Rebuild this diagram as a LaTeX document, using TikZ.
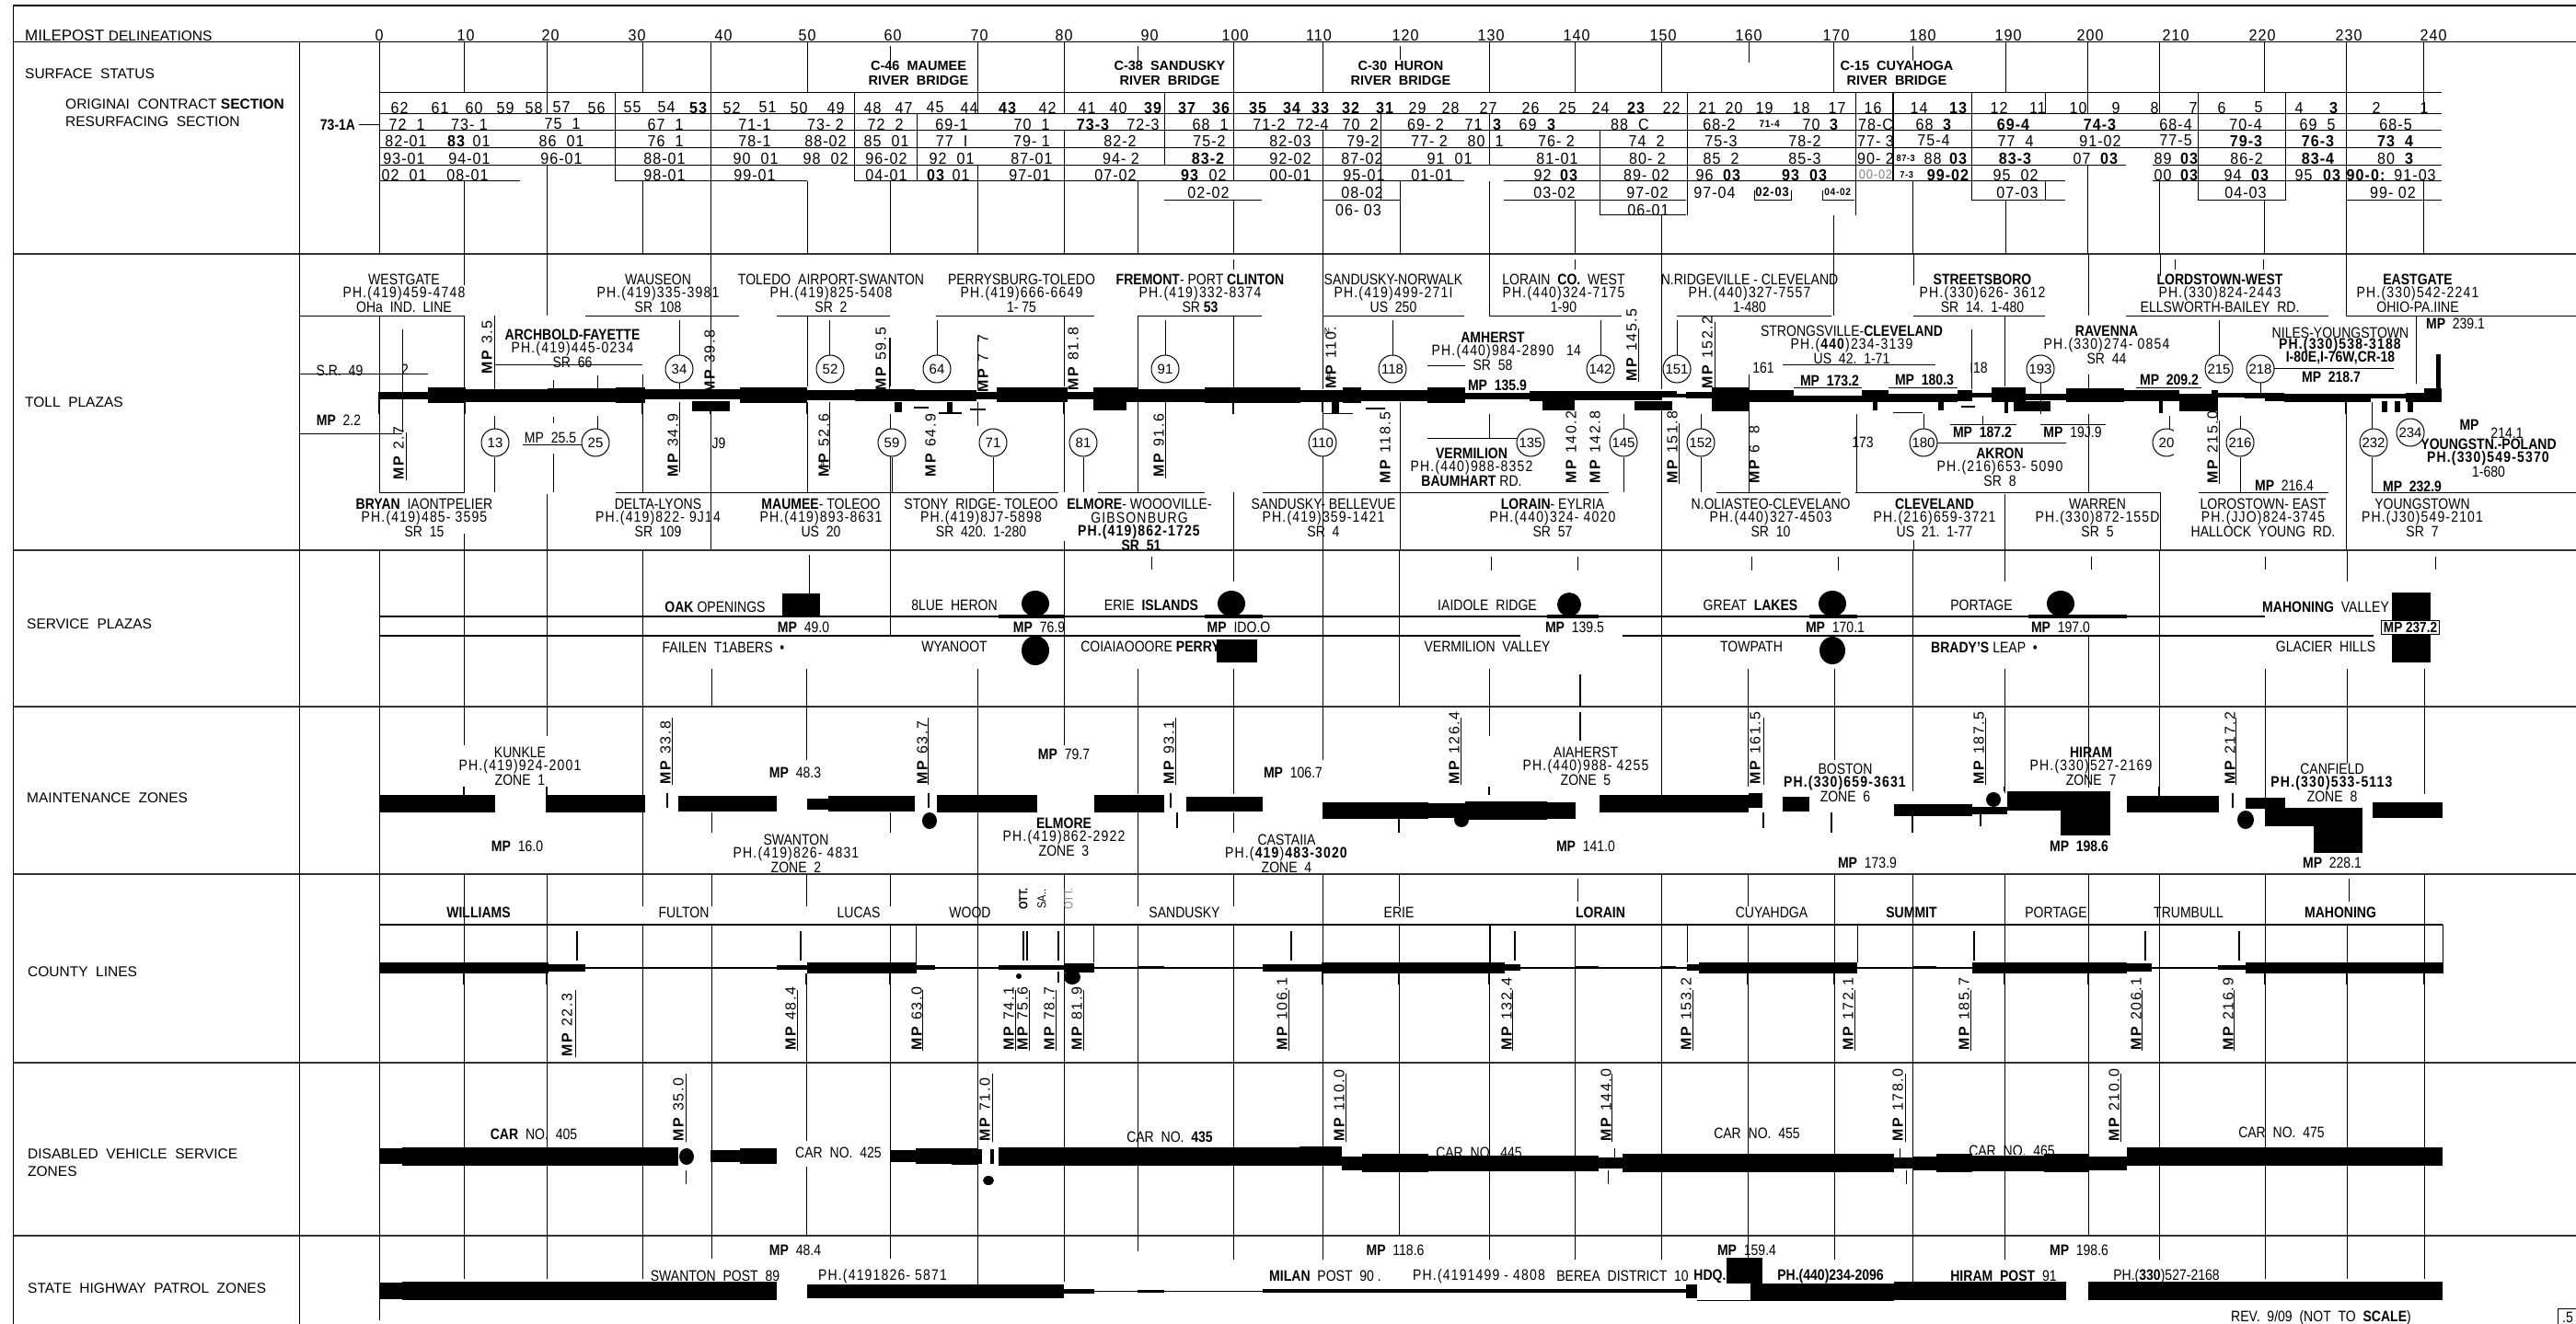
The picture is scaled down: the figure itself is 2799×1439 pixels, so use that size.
\documentclass[tikz,border=0pt]{standalone}
\usepackage{fontspec}
\setmainfont[FakeStretch=0.85]{Liberation Sans}
\newfontfamily\mpf[LetterSpace=10]{Liberation Sans}
\newfontfamily\plainf{Liberation Sans}
\newfontfamily\phf[FakeStretch=0.85,LetterSpace=7]{Liberation Sans}
\newfontfamily\cellf[FakeStretch=0.92,LetterSpace=6]{Liberation Sans}
\newcount\nc
\def\fs#1{\fontsize{#1}{#1}\selectfont}
\def\B#1{\textbf{#1}}
\tikzset{
  lbl/.style={inner sep=0pt,font=\fs{16.5}},
  cell/.style={inner sep=0pt,font=\cellf\fs{17.5}},
  vl/.style={line width=1pt,black},
  hv/.style={line width=1.2pt,black},
  band/.style={line width=2pt,black!80},
  tick/.style={line width=2pt,black},
  vtext/.style={inner sep=0pt,rotate=90,anchor=west,font=\mpf\fs{16}},
  exitc/.style={circle,draw,line width=1pt,fill=white,minimum size=30pt,inner sep=0pt,font=\plainf\fs{15}}
}
\def\T#1#2#3{\global\advance\nc by1 \node[lbl] (n\the\nc) at (#1,#2) {#3};}
\def\C#1#2#3{\global\advance\nc by1 \node[cell] (n\the\nc) at (#1,#2) {#3};}
\def\W#1#2#3{\global\advance\nc by1 \node[lbl,anchor=west,font=\plainf\fs{15.5}] (n\the\nc) at (#1,#2) {#3};}
\def\Three#1#2#3#4#5{\T{#1}{#2}{#3}\T{#1}{#2+15}{\phf #4}\T{#1}{#2+30}{#5}}
\def\V#1#2#3{\global\advance\nc by1 \node[vtext] (n\the\nc) at (#1,#2) {\B{MP}\ #3};}
\def\E#1#2#3{\global\advance\nc by1 \node[exitc] (n\the\nc) at (#1,#2) {#3};}
\begin{document}
\begin{tikzpicture}[x=1pt,y=-1pt]
\useasboundingbox (0,0) rectangle (2799,1439);
\fill[white] (0,0) rectangle (2799,1439);
% frame and row rules
\draw[hv] (14,6) -- (2799,6);
\draw[hv] (14,45.5) -- (2799,45.5);
\foreach \y in {276,598,768,950,1155,1343} \draw[band] (14,\y) -- (2799,\y);
\draw[vl] (14,6) -- (14,1439);
\draw[vl] (325,45) -- (325,1439);
% surface table verticals
\foreach \x/\a/\b in {412/45/276,504/45/101,504/197/276,594/45/124,594/180/276,668/101/197,698/45/101,698/197/276,772/45/276,877/45/101,877/197/276,928/101/197,967/50/67,967/197/276,996/124/197,1062/45/124,1062/180/276,1156/45/124,1156/142/276,1265/101/180,1236/50/66,1236/197/276,1340/45/197,1340/218/276,1437/45/101,1437/142/276,1500/124/218,1521/50/65,1521/197/276,1618/45/101,1618/124/180,1618/197/276,1711/45/101,1711/218/276,1738/142/234,1805/45/101,1805/234/276,1833/101/234,1900/45/68,1992/45/101,1992/234/276,2016/101/234,2078/50/66,2078/197/276,2142/101/218,2179/45/101,2179/218/276,2222/101/124,2222/197/218,2268/45/124,2268/180/276,2346/45/124,2346/197/276,2388/101/218,2460/45/101,2460/218/276,2483/101/218,2549/45/276,2633/45/124,2633/197/276}
  \draw[vl] (\x,\a) -- (\x,\b);
\draw[tick] (2057,101) -- (2057,197);
\foreach \y/\a/\b in {101/412/2653,124/412/2653,142/412/2653,161/412/2653,180/412/2310,180/2339/2653,197/412/565,197/668/877,197/928/1591,197/1634/2244,197/2339/2653,218/1265/1371,218/1437/1521,218/1634/1832,218/2142/2244,218/2388/2483,218/2549/2653,234/1738/1832,218/1906/1946,218/1980/2015}
  \draw[vl] (\a,\y) -- (\b,\y);
\foreach \x/\a/\b in {1906/207/218,1946/207/218,1980/207/218}
  \draw[vl] (\x,\a) -- (\x,\b);
\draw[vl] (390,136) -- (412,136);
% toll verticals
\foreach \x/\a/\b in {412/343/535,437/358/470,504/276/310,504/343/535,504/580/598,537/343/423,537/452/470,537/497/535,594/276/343,594/537/598,601/413/423,601/453/460,601/493/535,649/408/423,649/452/470,698/407/535,738/348/386,738/416/423,738/437/513,772/276/343,772/343/423,772/450/598,877/343/420,877/437/535,901/348/386,901/437/510,967/367/420,967/450/598,1018/348/386,1062/365/423,1062/437/463,1079/497/535,969/497/535,1156/343/420,1156/437/535,1156/588/598,1177/497/535,1236/343/535,1266/348/386,1266/437/520,1340/282/293,1340/343/423,1340/437/450,1340/535/598,1437/276/343,1437/343/423,1437/437/535,1437/535/598,1513/348/386,1521/437/598,1618/276/343,1618/450/476,1711/282/293,1739/348/386,1764/450/466,1764/497/535,1805/276/423,1805/437/598,1822/348/386,1848/450/466,1848/497/535,1900/407/423,1900/437/535,1992/276/343,2017/450/535,2079/276/310,2079/587/598,2090/450/466,2142/358/423,2178/343/420,2178/537/598,2154/452/461,2217/405/450,2269/276/343,2269/407/423,2269/450/535,2347/276/300,2347/535/598,2357/452/466,2363/282/293,2459/282/293,2411/348/386,2409/433/457,2456/408/427,2434/452/466,2434/497/535,2549/276/343,2549/437/598,2577/437/466,2577/497/535,2625/343/417}
  \draw[vl] (\x,\a) -- (\x,\b);
\foreach \y/\a/\b in {343/325/505,343/636/803,343/844/967,343/1017/1189,343/1237/1371,343/1437/1591,343/1618/1762,343/1822/1990,343/2079/2222,343/2310/2530,343/2549/2799,535/412/505,535/669/1150,535/1193/1309,535/1372/1748,535/1865/2000,535/2016/2347,535/2389/2530,535/2577/2799,406/325/465,471/325/437,396/538/698,397/1551/1592,476/1551/1649,396/1937/2103,461/2119/2191,461/2217/2288,481/2104/2245,400/2471/2601,421/1949/2023,421/2052/2127,421/2321/2392,427/1593/1662,483/568/632}
  \draw[vl] (\a,\y) -- (\b,\y);
% road
\foreach \a/\b/\c/\d in {411/465/426/434,465/506/421/438,506/595/423/437,595/669/422/437,669/701/421/438,701/804/423/434,804/877/421/438,877/929/424/435,929/994/423/436,994/1061/424/436,1061/1083/426/434,1083/1160/421/437,1160/1188/426/434,1188/1237/421/437,1188/1224/437/446,1237/1309/423/437,1309/1413/421/438,1413/1459/424/437,1459/1479/421/438,1479/1551/424/436,1551/1592/421/438,1592/1662/427/434,1662/1676/425/436,1676/1711/425/446,1711/1806/425/435,1776/1817/436/446,1806/1822/425/432,1822/1832/428/432,1832/1860/426/433,1860/1901/421/447,1901/1949/424/437,1949/2023/430/437,2023/2052/424/437,2052/2127/428/437,2127/2143/424/436,2143/2164/427/432,2164/2201/421/437,2201/2245/428/435,2188/2228/436/447,2245/2308/422/437,2308/2368/424/436,2368/2403/428/447,2403/2410/424/447,2410/2439/427/432,2439/2461/427/433,2461/2482/427/436,2482/2576/428/437,2576/2614/428/433,2614/2634/427/437,2634/2653/422/437,752/793/436/447,972/980/437/448,993/1009/442/444,1054/1071/444/446,1029/1035/437/450,1020/1045/448/450,2647/2652/385/423,2588/2594/436/448,2602/2608/436/448,2616/2622/436/448,1447/1455/437/450,1437/1470/449/450,1484/1505/443/445,2057/2089/448/449,2131/2146/441/443,2178/2182/437/449,2035/2040/434/446,2106/2112/434/446,2346/2350/436/449}
  \fill (\a,\c) rectangle (\b,\d);
\foreach \x/\a/\b in {412/430/450,505/437/450,698/437/450,772/447/450,877/437/450,1156/437/450,1340/437/450,1437/437/448,2549/437/450}
  \draw[tick] (\x,\a) -- (\x,\b);
% toll labels
\Three{439}{304}{WESTGATE}{PH.(419)459-4748}{OHa\ \ IND.\ \ LINE}
\Three{715}{304}{WAUSEON}{PH.(419)335-3981}{SR\ \ 108}
\Three{903}{304}{TOLEDO\ \ AIRPORT-SWANTON}{PH.(419)825-5408}{SR\ \ 2}
\Three{1110}{304}{PERRYSBURG-TOLEDO}{PH.(419)666-6649}{1- 75}
\Three{1304}{304}{\B{FREMONT}- PORT \B{CLINTON}}{PH.(419)332-8374}{SR \B{53}}
\Three{1514}{304}{SANDUSKY-NORWALK}{PH.(419)499-271I}{US\ \ 250}
\Three{1699}{304}{LORAIN\ \ \B{CO.}\ \ WEST}{PH.(440)324-7175}{1-90}
\Three{1901}{304}{N.RIDGEVILLE - CLEVELAND}{PH.(440)327-7557}{1-480}
\Three{2154}{304}{\B{STREETSBORO}}{PH.(330)626- 3612}{SR\ \ 14.\ \ 1-480}
\Three{2412}{304}{\B{LORDSTOWN-WEST}}{PH.(330)824-2443}{ELLSWORTH-BAILEY\ \ RD.}
\Three{2627}{304}{\B{EASTGATE}}{PH.(330)542-2241}{OHIO-PA.IINE}
\Three{461}{548}{\B{BRYAN}\ \ IAONTPELIER}{PH.(419)485- 3595}{SR\ \ 15}
\Three{715}{548}{DELTA-LYONS}{PH.(419)822- 9J14}{SR\ \ 109}
\Three{892}{548}{\B{MAUMEE}- TOLEOO}{PH.(419)893-8631}{US\ \ 20}
\Three{1066}{548}{STONY\ \ RIDGE- TOLEOO}{PH.(419)8J7-5898}{SR\ \ 420.\ \ 1-280}
\Three{1238}{548}{\B{ELMORE}- WOOOVILLE-}{GIBSONBURG}{\B{\phf PH.(419)862-1725}}
\T{1240}{593}{\B{SR\ \ 51}}
\Three{1438}{548}{SANDUSKY- BELLEVUE}{PH.(419)359-1421}{SR\ \ 4}
\Three{1687}{548}{\B{LORAIN}- EYLRIA}{PH.(440)324- 4020}{SR\ \ 57}
\Three{1924}{548}{N.OLIASTEO-CLEVELANO}{PH.(440)327-4503}{SR\ \ 10}
\Three{2102}{548}{\B{CLEVELAND}}{PH.(216)659-3721}{US\ \ 21.\ \ 1-77}
\Three{2279}{548}{WARREN}{PH.(330)872-155D}{SR\ \ 5}
\Three{2459}{548}{LOROSTOWN- EAST}{PH.(JJO)824-3745}{HALLOCK\ \ YOUNG\ \ RD.}
\Three{2632}{548}{YOUNGSTOWN}{PH.(J30)549-2101}{SR\ \ 7}
\Three{622}{364}{\B{ARCHBOLD-FAYETTE}}{PH.(419)445-0234}{SR\ \ 66}
\Three{1622}{367}{\B{AMHERST}}{PH.(440)984-2890}{SR\ \ 58}
\T{1710}{381}{14}
\Three{1599}{493}{\B{VERMILION}}{PH.(440)988-8352}{\B{BAUMHART}\ RD.}
\Three{2012}{360}{STRONGSVILLE-\B{CLEVELAND}}{PH.(\B{440})234-3139}{US\ \ 42.\ \ 1-71}
\Three{2289}{360}{\B{RAVENNA}}{PH.(330)274- 0854}{SR\ \ 44}
\T{2543}{362}{NILES-YOUNGSTOWN}
\fill[white] (2470,368) rectangle (2615,397);
\T{2543}{375}{\phf\B{PH.(330)538-3188}}
\T{2543}{389}{\B{I-80E,I-76W,CR-18}}
\T{2533}{410}{\B{MP}\ \ \B{218.7}}
\T{2724}{471}{214.1}
\Three{2704}{483}{\B{YOUNGSTN.-POLAND}}{\B{PH.(330)549-5370}}{1-680}
\T{2683}{462}{\B{MP}}
\Three{2173}{493}{\B{AKRON}}{PH.(216)653- 5090}{SR\ \ 8}
\T{369}{403}{S.R.\ \ 49}\T{440}{402}{2}
\T{368}{457}{\B{MP}\ \ 2.2}
\T{598}{476}{MP\ \ 25.5}
\T{781}{482}{J9}
\T{895}{505}{\fs{10}a.}
\T{1443}{360}{\fs{10}N.}
\T{1445}{409}{\fs{10}a.}
\T{1916}{400}{161}\T{2150}{400}{I18}\T{2024}{481}{173}
\T{1988}{414}{\B{MP}\ \ \B{173.2}}
\T{2091}{413}{\B{MP}\ \ \B{180.3}}
\T{1627}{419}{\B{MP}\ \ \B{135.9}}
\T{2154}{470}{\B{MP}\ \ \B{187.2}}
\T{2252}{470}{\B{MP}\ \ 19J.9}
\T{2357}{413}{\B{MP}\ \ \B{209.2}}
\T{2482}{528}{\B{MP}\ \ 216.4}
\T{2621}{529}{\B{MP}\ \ \B{232.9}}
\T{2668}{352}{\B{MP}\ \ 239.1}
% exits
\foreach \x/\y/\s in {738/401/34,902/401/52,1018/401/64,538/481/13,647/481/25,969/481/59,1079/481/71,1266/401/91,1513/401/118,1739/401/142,1822/401/151,1177/481/81,1437/481/110,1663/481/135,1764/481/145,1848/481/152,2217/401/193,2411/401/215,2456/401/218,2090/481/180,2354/481/20,2434/481/216,2579/481/232,2619/470/234}
  \E{\x}{\y}{\s};
\fill[white] (2362,465) rectangle (2372,497);
\foreach \x/\y/\s in {433/522/2.7,529/407/3.5,771/428/39.8,731/519/34.9,895/519/52.6,957/425/59.5,1068/427/{7\ \ 7},1011/519/64.9,1166/425/81.8,1259/519/91.6,1446/423/110.,1505/526/118.5,1773/415/145.5,1855/423/152.2,1707/526/140.2,1733/526/142.8,1817/526/151.8,1906/526/{6\ \ 8},2404/526/215.0}
  \V{\x}{\y}{\s};
\foreach \x/\a/\b in {441/470/522,1824/460/526,2411/457/526,966/367/425,1780/357/415,1863/350/423}
  \draw[vl] (\x,\a) -- (\x,\b);
% service plazas
\foreach \x/\a/\b in {412/598/950,504/598/810,594/598/800,698/598/950,773/727/768,773/883/905,876/727/826,879/603/645,967/598/690,967/883/905,1062/727/950,1156/598/810,1236/727/863,1236/883/950,1251/605/619,1340/598/632,1340/727/863,1340/883/905,1437/598/826,1520/598/768,1520/880/905,1618/727/800,1620/605/620,1714/605/620,1805/598/866,1899/727/855,1903/605/620,1993/727/826,1997/605/620,2078/598/860,2178/598/632,2178/727/862,2269/690/856,2272/605/619,2346/598/863,2461/727/873,2461/605/619,2550/598/632,2550/727/830,2634/727/863,2646/605/619}
  \draw[vl] (\x,\a) -- (\x,\b);
\draw[tick] (1717,733) -- (1717,768) (1717,774) -- (1717,805);
\foreach \y/\a/\b in {670/412/2461,691/412/1652,691/1763/2579}
  \draw[hv] (\a,\y) -- (\b,\y);
\foreach \a/\b in {1085/1156,1309/1372,1681/1737,1966/2018,2204/2311}
  \fill (\a,668) rectangle (\b,672);
\fill (850,645) rectangle (891,670);
\fill (1322,695) rectangle (1366,720);
\fill (2599,644) rectangle (2641,720);
\foreach \x/\y/\rx/\ry in {1125/656/15/14,1338/656/15/14,1125/707/15/16,1705/657/13/13,1991/656/15/14,1991/707/14/15,2239/656/15/14}
  \fill (\x,\y) ellipse [x radius=\rx,y radius=\ry];
\W{27}{437}{TOLL\ \ PLAZAS}
\W{29}{678}{SERVICE\ \ PLAZAS}
\W{29}{867}{MAINTENANCE\ \ ZONES}
\W{30}{1056}{COUNTY\ \ LINES}
\W{30}{1254}{DISABLED\ \ VEHICLE\ \ SERVICE}
\W{30}{1273}{ZONES}
\W{30}{1400}{STATE\ \ HIGHWAY\ \ PATROL\ \ ZONES}
\T{777}{660}{\B{OAK}\ OPENINGS}\T{873}{682}{\B{MP}\ \ 49.0}
\T{1037}{658}{8LUE\ \ HERON}\T{1129}{682}{\B{MP}\ \ 76.9}
\T{1251}{658}{ERIE\ \ \B{ISLANDS}}\T{1346}{682}{\B{MP}\ \ IDO.O}
\T{786}{704}{FAILEN\ \ T1ABERS\ \ •}
\T{1037}{703}{WYANOOT}
\T{1250}{703}{COIAIAOOORE \B{PERRY}}
\T{1616}{658}{IAIDOLE\ \ RIDGE}\T{1711}{682}{\B{MP}\ \ 139.5}
\T{1616}{703}{VERMILION\ \ VALLEY}
\T{1902}{658}{GREAT\ \ \B{LAKES}}\T{1994}{682}{\B{MP}\ \ 170.1}
\T{1903}{703}{TOWPATH}
\T{2153}{658}{PORTAGE}\T{2239}{682}{\B{MP}\ \ 197.0}
\T{2156}{704}{\B{BRADY'S}\ LEAP\ \ •}
\T{2527}{660}{\B{MAHONING}\ \ VALLEY}
\T{2527}{703}{GLACIER\ \ HILLS}
\global\advance\nc by1
\node[draw,line width=1pt,fill=white,inner sep=2pt,font=\fs{16}] (n\the\nc) at (2619,682) {\B{MP}\ \B{237.2}};
% maintenance bars
\foreach \a/\b/\c/\d in {412/538/864/883,593/701/864/883,737/844/865/882,877/900/868/880,900/994/865/882,1018/1127/864/883,1189/1265/864/883,1289/1372/866/882,1437/1552/872/890,1552/1592/873/889,1592/1681/871/891,1681/1712/872/890,1738/1900/864/883,1900/1915/862/878,1937/1966/866/882,2058/2143/874/887,2143/2181/877/885,2181/2293/860/881,2239/2293/881/908,2311/2411/865/883,2440/2483/867/879,2461/2567/878/898,2514/2567/898/927,2578/2654/872/889}
  \fill (\a,\c) rectangle (\b,\d);
\foreach \x/\y/\rx/\ry in {1010/892/8/9,1588/891/8/8,2166/869/8/8,2440/891/9/10}
  \fill (\x,\y) ellipse [x radius=\rx,y radius=\ry];
\foreach \x/\a/\b in {725/862/878,1009/862/878,1272/862/878,1279/883/900,1916/883/900,2152/883/898,2426/862/878,1990/883/905,2078/887/905,1520/890/905,504/855/864,594/855/864,1618/855/864,2178/855/860,2346/855/865}
  \draw[tick] (\x,\a) -- (\x,\b);
\Three{565}{818}{KUNKLE}{PH.(419)924-2001}{ZONE\ \ 1}
\T{562}{920}{\B{MP}\ \ 16.0}
\T{864}{840}{\B{MP}\ \ 48.3}
\Three{865}{913}{SWANTON}{PH.(419)826- 4831}{ZONE\ \ 2}
\T{1156}{820}{\B{MP}\ \ 79.7}
\Three{1156}{895}{\B{ELMORE}}{PH.(419)862-2922}{ZONE\ \ 3}
\T{1405}{840}{\B{MP}\ \ 106.7}
\Three{1398}{913}{CASTAIIA}{PH.(\B{419})\B{483-3020}}{ZONE\ \ 4}
\Three{1723}{818}{AIAHERST}{PH.(440)988- 4255}{ZONE\ \ 5}
\T{1723}{920}{\B{MP}\ \ 141.0}
\Three{2005}{836}{BOSTON}{\B{PH.(330)659-3631}}{ZONE\ \ 6}
\T{2029}{938}{\B{MP}\ \ 173.9}
\Three{2272}{818}{\B{HIRAM}}{PH.(330)527-2169}{ZONE\ \ 7}
\T{2259}{920}{\B{MP}\ \ \B{198.6}}
\Three{2534}{836}{CANFIELD}{\B{PH.(330)533-5113}}{ZONE\ \ 8}
\T{2534}{938}{\B{MP}\ \ 228.1}
\foreach \x/\y/\s in {723/853/33.8,1002/853/63.7,1270/853/93.1,1580/853/126.4,1907/853/161.5,2150/853/187.5,2423/853/217.2,616/1149/22.3,859/1142/48.4,996/1142/63.0,1096/1142/74.1,1111/1142/75.6,1140/1142/78.7,1170/1142/81.9,1393/1142/106.1,1637/1142/132.4,1832/1142/153.2,2008/1142/172.1,2134/1142/185.7,2321/1142/206.1,2421/1142/216.9,737/1241/35.0,1070/1241/71.0,1455/1241/110.0,1745/1241/144.0,2062/1241/178.0,2297/1241/210.0}
  \V{\x}{\y}{\s};
\foreach \x/\a/\b in {730/780/853,1008/780/853,1277/780/853,1587/780/853,1916/780/853,2157/780/853,2429/780/853,625/1076/1149,866/1076/1142,1002/1076/1142,1103/1076/1142,1118/1076/1142,1147/1076/1142,1177/1076/1142,1400/1076/1142,1643/1076/1142,1839/1076/1142,2015/1076/1142,2141/1076/1142,2327/1076/1142,2427/1076/1142,745/1167/1241,1078/1167/1241,1462/1167/1241,1751/1167/1241,2070/1167/1241,2304/1167/1241}
  \draw[vl] (\x,\a) -- (\x,\b);
% county and lower verticals
\foreach \x/\a/\b in {412/950/1435,504/950/1390,594/950/1390,698/950/985,698/1005/1390,773/950/985,773/1005/1368,876/950/985,876/1058/1343,967/950/985,967/1005/1368,1062/950/1400,1156/950/1393,1236/950/985,1236/1005/1360,1340/950/985,1340/1005/1369,1437/950/1369,1520/950/985,1520/1005/1343,1618/1005/1369,1711/1005/1369,1805/950/1369,1899/950/985,1899/1005/1369,1993/950/1369,2078/950/1393,2178/950/1369,2269/950/1343,2346/950/1369,2461/950/1390,2550/1005/1390,2634/950/1390,1714/955/980,2552/955/980,995/1005/1046,1188/1005/1046,1619/1005/1046,1833/1005/1046,2018/1005/1046,2654/1005/1058}
  \draw[vl] (\x,\a) -- (\x,\b);
\draw[hv] (412,1005) -- (2654,1005);
\draw[hv] (412,1052) -- (2654,1052);
\foreach \a/\b/\c/\d in {412/596/1046/1058,596/636/1048/1056,844/877/1049/1054,877/996/1046/1058,996/1016/1049/1054,1085/1156/1049/1054,1156/1189/1047/1057,1236/1265/1050/1053,1372/1436/1048/1056,1436/1635/1046/1058,1635/1652/1048/1055,1712/1737/1050/1053,1804/1821/1050/1053,1833/1846/1048/1055,1846/2018/1046/1058,2079/2104/1050/1053,2143/2311/1046/1058,2311/2338/1047/1056,2410/2440/1049/1054,2440/2654/1046/1058}
  \fill (\a,\c) rectangle (\b,\d);
\foreach \x in {627,870,1112,1116,1150,1403,1646,2145,2331,2433}
  \draw[tick] (\x,1012) -- (\x,1044);
\foreach \x in {504,594,876,967,1437,1520,1618,1899,1993,2178,2269,2461,2550,2634}
  \draw[tick] (\x,1058) -- (\x,1070);
\draw[tick] (1150,1056) -- (1150,1068);
\fill (1107,1061) circle [radius=3];
\fill (1165,1062) ellipse [x radius=9,y radius=8];
\foreach \x/\s in {520/\B{WILLIAMS},743/FULTON,933/LUCAS,1054/WOOD,1287/SANDUSKY,1520/ERIE,1739/\B{LORAIN},1925/CUYAHDGA,2077/\B{SUMMIT},2234/PORTAGE,2378/TRUMBULL,2543/\B{MAHONING}}
  \T{\x}{992}{\s};
\foreach \x/\s in {1112/\B{OTT.},1132/SA..,1161/\textcolor{gray}{OTT.}}{
  \global\advance\nc by1
  \node[vtext,anchor=center,font=\fs{13}] (n\the\nc) at (\x,977) {\s};}
% disabled vehicle bars
\foreach \a/\b/\c/\d in {412/437/1248/1265,437/737/1247/1267,772/804/1250/1263,804/844/1248/1265,967/995/1250/1263,995/1034/1248/1265,1034/1062/1248/1266,1063/1067/1249/1265,1076/1080/1249/1265,1085/1412/1247/1267,1412/1458/1246/1267,1458/1480/1257/1272,1480/1552/1254/1274,1552/1737/1256/1273,1737/1763/1258/1270,1763/2058/1254/1274,2058/2079/1258/1270,2079/2104/1257/1272,2104/2143/1254/1274,2143/2221/1256/1273,2221/2269/1254/1274,2269/2311/1257/1272,2311/2654/1247/1267}
  \fill (\a,\c) rectangle (\b,\d);
\fill (746,1257) ellipse [x radius=8,y radius=9];
\fill (1074,1283) ellipse [x radius=6,y radius=5];
\foreach \x/\a/\b in {745/1272/1287,1754/1248/1258,1747/1272/1287,2064/1248/1258,2071/1272/1287}
  \draw[vl] (\x,\a) -- (\x,\b);
\T{580}{1233}{\B{CAR}\ \ NO.\ \ 405}
\fill[white] (862,1240) rectangle (960,1268);
\T{911}{1253}{CAR\ \ NO.\ \ 425}
\T{1271}{1236}{CAR\ \ NO.\ \ \B{435}}
\T{1909}{1232}{CAR\ \ NO.\ \ 455}
\T{2479}{1231}{CAR\ \ NO.\ \ 475}
\begin{scope}
\clip (1500,1240) rectangle (1720,1256);
\T{1607}{1253}{CAR\ \ NO.\ \ 445}
\end{scope}
\begin{scope}
\clip (2120,1235) rectangle (2260,1254);
\T{2186}{1251}{CAR\ \ NO.\ \ 465}
\end{scope}
% patrol bars
\foreach \a/\b/\c/\d in {412/437/1394/1412,437/844/1393/1413,877/1156/1396/1411,1156/1189/1401/1406,1236/1265/1402/1405,1372/1832/1401/1405,1832/1844/1396/1411,1876/1915/1367/1395,1902/2058/1395/1414,2058/2245/1393/1413,2269/2654/1393/1413,1844/1902/1413/1414}
  \fill (\a,\c) rectangle (\b,\d);
\draw[vl] (1189,1403) -- (1372,1403);
\T{864}{1359}{\B{MP}\ \ 48.4}
\T{777}{1387}{SWANTON\ \ POST\ \ 89}
\T{959}{1387}{\phf PH.(4191826- 5871}
\T{1440}{1387}{\B{MILAN}\ \ POST\ \ 90 .}
\T{1607}{1387}{\phf PH.(4191499 - 4808}
\T{1763}{1387}{BEREA\ \ DISTRICT\ \ 10}
\T{1858}{1387}{\B{HDQ.}}
\T{1989}{1387}{\B{PH.(440)234-2096}}
\T{2177}{1387}{\B{HIRAM}\ \ \B{POST}\ \ 91}
\T{2354}{1387}{PH.(\B{330})527-2168}
\T{1516}{1359}{\B{MP}\ \ 118.6}
\T{1898}{1359}{\B{MP}\ \ 159.4}
\T{2259}{1359}{\B{MP}\ \ 198.6}
\T{2522}{1432}{REV.\ \ 9/09\ \ (NOT\ \ TO\ \ \B{SCALE})}
\draw[vl] (2779,1439) -- (2779,1422) -- (2799,1422);
\T{2790}{1432}{.5}
% header
\W{27}{39}{\fs{17}MILEPOST\ \fs{15.5}DELINEATIONS}
\foreach \x/\s in {412/0,506/10,598/20,692/30,786/40,877/50,970/60,1064/70,1156/80,1249/90,1342/100,1433/110,1527/120,1620/130,1713/140,1807/150,1900/160,1995/170,2089/180,2182/190,2271/200,2364/210,2458/220,2552/230,2644/240}
  \C{\x}{38}{\s};
\W{27}{80}{SURFACE\ \ STATUS}
\W{71}{113}{ORIGINAI\ \ CONTRACT \B{SECTION}}
\W{71}{132}{RESURFACING\ \ SECTION}
\T{367}{136}{\B{73-1A}}
\foreach \x/\a/\b in {998/{C-46\ \ MAUMEE}/{RIVER\ \ BRIDGE},1271/{C-38\ \ SANDUSKY}/{RIVER\ \ BRIDGE},1522/{C-30\ \ HURON}/{RIVER\ \ BRIDGE},2061/{C-15\ \ CUYAHOGA}/{RIVER\ \ BRIDGE}}{
  \T{\x}{72}{\plainf\fs{14.5}\B{\a}}
  \T{\x}{88}{\plainf\fs{14.5}\B{\b}}}
% table text
\foreach \x/\s in {434/62,478/61,515/60,549/59,580/58,610/57,648/56,687/55,724/54,759/\B{53},795/52,834/51,868/50,908/49,948/48,982/47,1016/45,1053/44,1095/\B{43},1138/42,1181/41,1215/40,1253/\B{39},1290/\B{37},1327/\B{36},1367/\B{35},1404/\B{34},1435/\B{33},1468/\B{32},1505/\B{31},1540/29,1576/28,1617/27,1663/26,1703/25,1739/24,1778/\B{23},1816/22,1855/21,1884/20,1917/19,1957/18,1996/17,2035/16,2085/14,2128/\B{13},2172/12,2214/11,2258/10,2299/9,2341/8,2383/7,2414/6,2454/5,2498/4,2536/\B{3},2582/2,2634/1}
  \C{\x}{117}{\s};
\foreach \x/\s in {442/72\ \ 1,510/73- 1,611/75\ \ 1,723/67\ \ 1,820/71-1,897/73- 2,962/72\ \ 2,1034/69-1,1121/70\ \ 1,1188/\B{73-3},1242/72-3,1315/68\ \ 1,1379/71-2,1426/72-4,1478/70\ \ 2,1549/69- 2,1601/71,1627/\B{3},1660/69,1686/\B{3},1771/88\ \ C,1868/68-2,1923/{\fs{11}\B{71-4}},1968/70,1993/\B{3},2038/78-C,2091/68,2116/\B{3},2188/\B{69-4},2282/\B{74-3},2364/68-4,2440/70-4,2518/69\ \ 5,2603/68-5}
  \C{\x}{135}{\s};
\foreach \x/\s in {441/82-01,496/\B{83},523/01,610/86\ \ 01,723/76\ \ 1,820/78-1,897/88-02,963/85\ \ 01,1034/77\ \ I,1121/79- 1,1217/82-2,1314/75-2,1402/82-03,1481/79-2,1553/77- 2,1614/80\ \ 1,1691/76- 2,1789/74\ \ 2,1870/75-3,1961/78-2,2038/77- 3,2101/75-4,2190/77\ \ 4,2282/91-02,2364/77-5,2441/\B{79-3},2519/\B{76-3},2603/\B{73\ \ 4}}
  \C{\x}{153}{\s};
\foreach \x/\s in {439/93-01,510/94-01,610/96-01,722/88-01,821/90\ \ 01,897/98\ \ 02,963/96-02,1034/92\ \ 01,1121/87-01,1218/94- 2,1313/\B{83-2},1402/92-02,1480/87-02,1575/91\ \ 01,1692/81-01,1790/80- 2,1870/85\ \ 2,1961/85-3,2038/90- 2,2071/{\fs{10}\B{87-3}},2100/88,2128/\B{03},2190/\B{83-3},2262/07,2292/\B{03},2350/89,2379/\B{03},2441/86-2,2519/\B{83-4},2603/80\ \ \B{3}}
  \C{\x}{172}{\s};
\foreach \x/\s in {439/02\ \ 01,508/08-01,722/98-01,820/99-01,963/04-01,1017/\B{03},1044/01,1119/97-01,1212/07-02,1293/\B{93},1323/02,1402/00-01,1482/95-01,1556/01-01,1676/92,1705/\B{03},1789/89- 02,1852/96,1882/\B{03},1961/\B{93\ \ 03},2038/{\fs{14}\textcolor{gray}{00-02}},2072/{\fs{10}\B{7-3}},2117/\B{99-02},2190/95\ \ 02,2350/00,2379/\B{03},2426/94,2456/\B{03},2503/95,2534/\B{03},2571/\B{90-0:},2624/91-03}
  \C{\x}{190}{\s};
\foreach \x/\s in {1313/02-02,1480/08-02,1689/03-02,1790/97-02,1863/97-04,1926/{\fs{14}\B{02-03}},1997/{\fs{11}\B{04-02}},2192/07-03,2440/04-03,2600/99- 02}
  \C{\x}{209}{\s};
\foreach \x/\s in {1476/06- 03,1791/06-01}
  \C{\x}{228}{\s};
\end{tikzpicture}
\end{document}
